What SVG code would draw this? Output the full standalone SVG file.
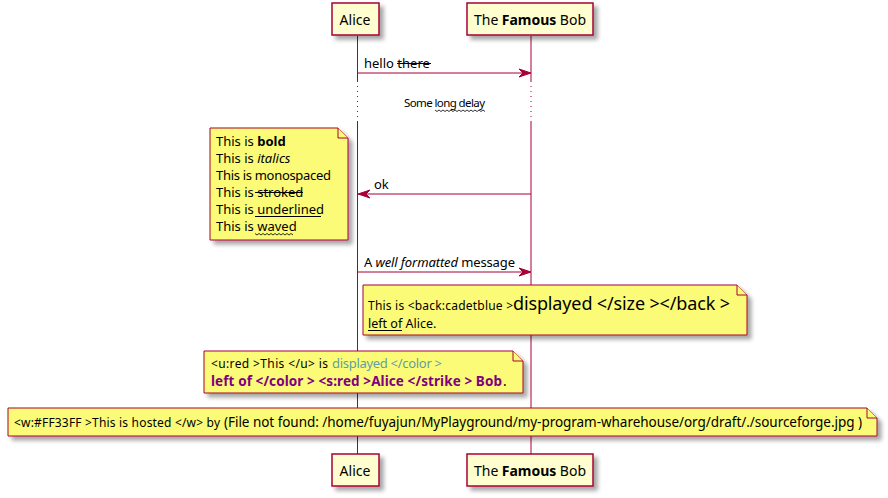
<svg xmlns="http://www.w3.org/2000/svg" width="888" height="498" viewBox="0 0 888 498" font-size="13">
<style>
text{font-family:"Noto Sans","Open Sans","DejaVu Sans",sans-serif}
.part{fill:#FEFECE;stroke:#A80036;stroke-width:1.5}
.note{fill:#FBFB77;stroke:#A80036;stroke-width:1}
.life{stroke:#A80036;stroke-width:1;fill:none}
.dot{stroke:#A80036;stroke-width:1;fill:none;stroke-dasharray:1,4}
.msg{stroke:#A80036;stroke-width:1;fill:none}
.head{fill:#A80036;stroke:#A80036;stroke-width:1}
.deco{stroke:#000;stroke-width:1;fill:none}
.wave{stroke:#000;stroke-width:0.8;fill:none}
</style>
<defs>
<filter id="sh" x="-10%" y="-10%" width="130%" height="140%">
<feGaussianBlur in="SourceAlpha" stdDeviation="2"/>
<feOffset dx="4" dy="4" result="b"/>
<feComponentTransfer><feFuncA type="linear" slope="0.35"/></feComponentTransfer>
<feMerge><feMergeNode/><feMergeNode in="SourceGraphic"/></feMerge>
</filter>
</defs>
<rect width="888" height="498" fill="#fff"/>
<g id="lifelines">
<path class="life" d="M357.5,36 V81 M357.5,122 V454"/>
<path class="dot" d="M357.5,81 V122"/>
<path class="life" d="M531,36 V81 M531,122 V454"/>
<path class="dot" d="M531,81 V122"/>
</g>
<g id="alice-top"><rect class="part" filter="url(#sh)" x="332" y="3" width="47" height="32"/><text font-size="14" x="339.5" y="24.5" textLength="31">Alice</text></g>
<g id="bob-top"><rect class="part" filter="url(#sh)" x="467" y="3" width="126" height="32"/><text font-size="14" x="474" y="24.5" textLength="112">The <tspan font-weight="bold">Famous</tspan> Bob</text></g>
<g id="alice-bottom"><rect class="part" filter="url(#sh)" x="332" y="454" width="47" height="32"/><text font-size="14" x="339.5" y="475.5" textLength="31">Alice</text></g>
<g id="bob-bottom"><rect class="part" filter="url(#sh)" x="467" y="454" width="126" height="32"/><text font-size="14" x="474" y="475.5" textLength="112">The <tspan font-weight="bold">Famous</tspan> Bob</text></g>
<g id="connectors">
<line class="msg" x1="358" y1="73" x2="529" y2="73"/>
<polygon class="head" points="531,73 519,69 523,73 519,77"/>
<text x="364" y="68">hello there </text>
<line class="deco" x1="397" y1="63.5" x2="431" y2="63.5"/>
<line class="msg" x1="360" y1="194" x2="531" y2="194"/>
<polygon class="head" points="358,194 370,190 366,194 370,198"/>
<text x="374" y="189">ok</text>
<line class="msg" x1="358" y1="272" x2="529" y2="272"/>
<polygon class="head" points="531,272 519,268 523,272 519,276"/>
<text x="364" y="267" textLength="151">A <tspan font-style="italic">well formatted</tspan> message</text>
</g>
<g id="delay">
<text x="404" y="107" font-size="11.5" textLength="81">Some long delay</text>
<path class="wave" d="M435,110 l2,1.5 l2,-1.5 l2,1.5 l2,-1.5 l2,1.5 l2,-1.5 l2,1.5 l2,-1.5 l2,1.5 l2,-1.5 l2,1.5 l2,-1.5 l2,1.5 l2,-1.5 l2,1.5 l2,-1.5 l2,1.5 l2,-1.5 l2,1.5 l2,-1.5 l2,1.5 l2,-1.5 l2,1.5 l2,-1.5 l2,1.5"/>
</g>
<g id="note-formats">
<path class="note" filter="url(#sh)" d="M210,128 H338 L348,138 V240 H210 Z"/>
<path class="note" d="M338,128 V138 H348"/>
<text x="216" y="146">This is <tspan font-weight="bold">bold</tspan></text>
<text x="216" y="163">This is <tspan font-style="italic">italics</tspan></text>
<text x="216" y="180" textLength="115">This is monospaced</text>
<text x="216" y="197">This is stroked </text>
<line class="deco" x1="255" y1="192.5" x2="303" y2="192.5"/>
<text x="216" y="214">This is underlined </text>
<line class="deco" x1="255" y1="216.5" x2="321" y2="216.5"/>
<text x="216" y="231">This is waved</text>
<path class="wave" d="M255,233.5 l2,1.5 l2,-1.5 l2,1.5 l2,-1.5 l2,1.5 l2,-1.5 l2,1.5 l2,-1.5 l2,1.5 l2,-1.5 l2,1.5 l2,-1.5 l2,1.5 l2,-1.5 l2,1.5 l2,-1.5 l2,1.5 l2,-1.5 l2,1.5"/>
</g>
<g id="note-size">
<path class="note" filter="url(#sh)" d="M363,285 H737 L747,295 V335 H363 Z"/>
<path class="note" d="M737,285 V295 H747"/>
<text x="368" y="310" font-size="12" textLength="145">This is &lt;back:cadetblue &gt;</text>
<text x="513" y="310" font-size="18" textLength="217">displayed &lt;/size &gt;&lt;/back &gt;</text>
<text x="368" y="328" font-size="12.5">left of Alice.</text>
<line class="deco" x1="368" y1="330.5" x2="402" y2="330.5"/>
</g>
<g id="note-color">
<path class="note" filter="url(#sh)" d="M204,351 H513 L523,361 V393 H204 Z"/>
<path class="note" d="M513,351 V361 H523"/>
<text x="211" y="368" font-size="12" textLength="117">&lt;u:red &gt;This &lt;/u&gt; is</text>
<text x="332" y="368" font-size="13" fill="#5F9EA0" textLength="110">displayed &lt;/color &gt;</text>
<text x="211" y="386" font-weight="bold" fill="#800080" font-size="13.5" textLength="291">left of &lt;/color &gt; &lt;s:red &gt;Alice &lt;/strike &gt; Bob</text>
<text x="503" y="386" font-size="13.5">.</text>
</g>
<g id="note-hosted">
<path class="note" filter="url(#sh)" d="M8,408 H867 L877,418 V436 H8 Z"/>
<path class="note" d="M867,408 V418 H877"/>
<text x="14" y="427" font-size="12" textLength="206">&lt;w:#FF33FF &gt;This is hosted &lt;/w&gt; by</text>
<text x="224" y="427" font-size="13.5" textLength="638">(File not found: /home/fuyajun/MyPlayground/my-program-wharehouse/org/draft/./sourceforge.jpg )</text>
</g>
</svg>
